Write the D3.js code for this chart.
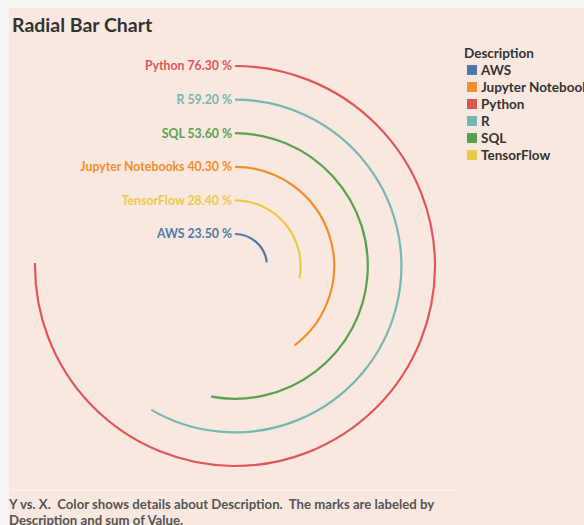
<!DOCTYPE html>
<html>
<head>
<meta charset="utf-8">
<script src="https://cdn.jsdelivr.net/npm/d3@7"></script>
<style>
  body { margin: 0; background: #f5f5f5; overflow: hidden; }
  svg { display: block; font-family: Lato, "Open Sans", sans-serif; }
</style>
</head>
<body>
<div id="chart"></div>
<script>
// Data
const categories = ["Python", "R", "SQL", "Jupyter Notebooks", "TensorFlow", "AWS"];
const values = [76.3, 59.2, 53.6, 40.3, 28.4, 23.5];
const legendOrder = ["AWS", "Jupyter Notebooks", "Python", "R", "SQL", "TensorFlow"];
const colors = ["#4e79a7", "#f28e2b", "#e15759", "#76b7b2", "#59a14f", "#edc948"];

const width = 584, height = 525;
const cx = 235, cy = 266;

const svg = d3.select("#chart").append("svg")
  .attr("width", width)
  .attr("height", height);

// Panel background
svg.append("rect")
  .attr("x", 9).attr("y", 8)
  .attr("width", width - 9).attr("height", height - 8)
  .attr("fill", "#f9e8e0");

// Title
svg.append("text")
  .attr("x", 12).attr("y", 32)
  .attr("font-size", 19.5).attr("font-weight", "bold")
  .attr("fill", "#333")
  .text("Radial Bar Chart");

const color = d3.scaleOrdinal().domain(legendOrder).range(colors);

// radius per category, angle per value
const radius = d3.scalePoint()
  .domain(categories)
  .range([200, 32]);

const angle = d3.scaleLinear()
  .domain([0, 101.4])
  .range([0, 2 * Math.PI]);

const arc = d3.arc()
  .startAngle(0)
  .endAngle(d => angle(d.value))
  .innerRadius(d => radius(d.name))
  .outerRadius(d => radius(d.name));

const rows = categories.map((c, i) => ({ name: c, value: values[i] }));

const g = svg.append("g").attr("transform", `translate(${cx},${cy})`);

g.selectAll("path.ring")
  .data(rows)
  .join("path")
  .attr("class", "ring")
  .attr("d", arc)
  .attr("fill", "none")
  .attr("stroke", d => color(d.name))
  .attr("stroke-width", 2.2);

g.selectAll("text.lbl")
  .data(rows)
  .join("text")
  .attr("class", "lbl")
  .attr("x", -3)
  .attr("y", d => -radius(d.name))
  .attr("dy", "0.35em")
  .attr("text-anchor", "end")
  .attr("font-size", 12.3)
  .attr("font-weight", "bold")
  .attr("fill", d => color(d.name))
  .text(d => `${d.name} ${d.value.toFixed(2)} %`);

// Legend
const legend = svg.append("g").attr("transform", "translate(464,0)");
legend.append("text")
  .attr("x", 0).attr("y", 58)
  .attr("font-size", 13.5).attr("font-weight", "bold")
  .attr("fill", "#333")
  .text("Description");

const item = legend.selectAll("g.item")
  .data(legendOrder)
  .join("g")
  .attr("class", "item")
  .attr("transform", (d, i) => `translate(0,${70 + i * 17})`);

item.append("rect")
  .attr("x", 3).attr("y", -5)
  .attr("width", 10).attr("height", 10)
  .attr("fill", d => color(d));

item.append("text")
  .attr("x", 17).attr("y", 0)
  .attr("dy", "0.35em")
  .attr("font-size", 13.5).attr("font-weight", "bold")
  .attr("fill", "#333")
  .text(d => d);

// Footer
svg.append("line")
  .attr("x1", 9).attr("x2", 460)
  .attr("y1", 490).attr("y2", 490)
  .attr("stroke", "#fdf3ee").attr("stroke-width", 1);

const foot = ["Y vs. X.  Color shows details about Description.  The marks are labeled by",
              "Description and sum of Value."];
svg.selectAll("text.foot")
  .data(foot)
  .join("text")
  .attr("class", "foot")
  .attr("x", 9)
  .attr("y", (d, i) => 509 + i * 16)
  .attr("font-size", 13.2).attr("font-weight", "bold")
  .attr("fill", "#555")
  .attr("xml:space", "preserve")
  .style("white-space", "pre")
  .text(d => d);
</script>
</body>
</html>
